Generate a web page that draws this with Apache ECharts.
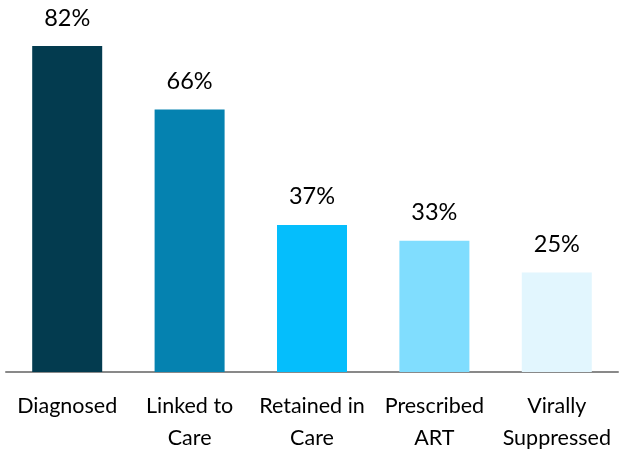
<!DOCTYPE html>
<html><head><meta charset="utf-8">
<script src="https://cdn.jsdelivr.net/npm/echarts@6/dist/echarts.min.js"></script>
<style>html,body{margin:0;padding:0;background:#fff}#c{width:619px;height:455px}</style>
</head><body><div id="c"></div>
<script>
const categories = ['Diagnosed', 'Linked to\nCare', 'Retained in\nCare', 'Prescribed\nART', 'Virally\nSuppressed'];
const values = [82, 66, 37, 33, 25];
const colors = ['#033B4F', '#0582B0', '#05BEFC', '#80DDFE', '#E2F6FE'];
const FONT = 'Lato';
const chart = echarts.init(document.getElementById('c'), null, {renderer: 'canvas'});
chart.setOption({
  animation: false,
  grid: {left: 6, right: 1, top: 46, bottom: 83},
  xAxis: {
    type: 'category', data: categories,
    axisLine: {lineStyle: {color: '#898989', width: 2}},
    axisTick: {show: false},
    axisLabel: {interval: 0, color: '#000', fontFamily: FONT, fontSize: 21.5, lineHeight: 32, margin: 18}
  },
  yAxis: {type: 'value', min: 0, max: 82, show: false, splitLine: {show: false}},
  series: [{
    type: 'bar', barWidth: 70,
    data: values.map((v, i) => ({value: v, itemStyle: {color: colors[i]}})),
    label: {show: true, position: 'top', distance: 16, formatter: '{c}%', color: '#000', fontFamily: FONT, fontSize: 23.5}
  }]
});
</script></body></html>
